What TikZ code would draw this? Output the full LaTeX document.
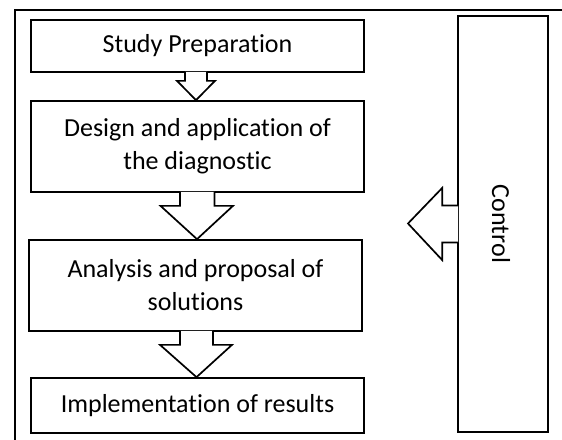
\documentclass[tikz,border=0pt]{standalone}
\usepackage{fontspec}
\setmainfont{Carlito}[Ligatures={NoCommon}]
\usetikzlibrary{calc}
\begin{document}
\begin{tikzpicture}[x=1pt,y=-1pt,
  line width=1.7pt, line join=miter,
  stepbox/.style={draw, fill=white, rectangle, inner sep=0pt, align=center,
    minimum width=333pt, font=\fontsize{26}{33}\selectfont},
  ctrlbox/.style={draw, fill=white, rectangle, inner sep=0pt,
    minimum width=90pt, minimum height=416pt},
  blockarrow/.style={draw, fill=white}]
\useasboundingbox (0,0) rectangle (562,439);
\begin{scope}
  \clip (0,0) rectangle (562,439);
  \draw (15,10) rectangle (590,460);
\end{scope}

% process steps
\node[stepbox, minimum height=52pt] (s1) at (197.5,46) {Study Preparation};
\node[stepbox, minimum height=91pt] (s2) at (197.5,146.5) {Design and application of\\the diagnostic};
\node[stepbox, minimum height=91pt] (s3) at (195.5,285.5) {Analysis and proposal of\\solutions};
\node[stepbox, minimum height=55pt] (s4) at (197.5,405.5) {Implementation of results};

% control column
\node[ctrlbox] (ctrl) at (503,224) {};
\node[rotate=-90, font=\fontsize{26}{33}\selectfont] (ctrltxt) at (501,224) {Control};

% hollow block arrows between the steps
\draw[blockarrow] ($(s1.south)+(-12.5,-1)$) -- ($(s1.south)+(-12.5,8)$)
  -- ($(s1.south)+(-20.5,8)$) -- ($(s2.north)+(-1.5,0)$)
  -- ($(s1.south)+(17.5,8)$) -- ($(s1.south)+(9.5,8)$) -- ($(s1.south)+(9.5,-1)$);
\draw[blockarrow] ($(s2.south)+(-17.5,-1)$) -- ($(s2.south)+(-17.5,13)$)
  -- ($(s2.south)+(-37,13)$) -- ($(s3.north)+(1.5,0)$)
  -- ($(s2.south)+(35.5,13)$) -- ($(s2.south)+(17,13)$) -- ($(s2.south)+(17,-1)$);
\draw[blockarrow] ($(s3.south)+(-15.5,-1)$) -- ($(s3.south)+(-15.5,13)$)
  -- ($(s3.south)+(-35.5,13)$) -- ($(s4.north)+(-1,0)$)
  -- ($(s3.south)+(36.5,13)$) -- ($(s3.south)+(17.5,13)$) -- ($(s3.south)+(17.5,-1)$);

% feedback arrow from the control column
\coordinate (ctip) at (408,223.5);
\draw[blockarrow] ($(ctrl.west)+(1,-18.5)$) -- ($(ctrl.west)+(-15,-18.5)$)
  -- ($(ctrl.west)+(-15,-36)$) -- (ctip)
  -- ($(ctrl.west)+(-15,36)$) -- ($(ctrl.west)+(-15,18.5)$) -- ($(ctrl.west)+(1,18.5)$);
\end{tikzpicture}
\end{document}
